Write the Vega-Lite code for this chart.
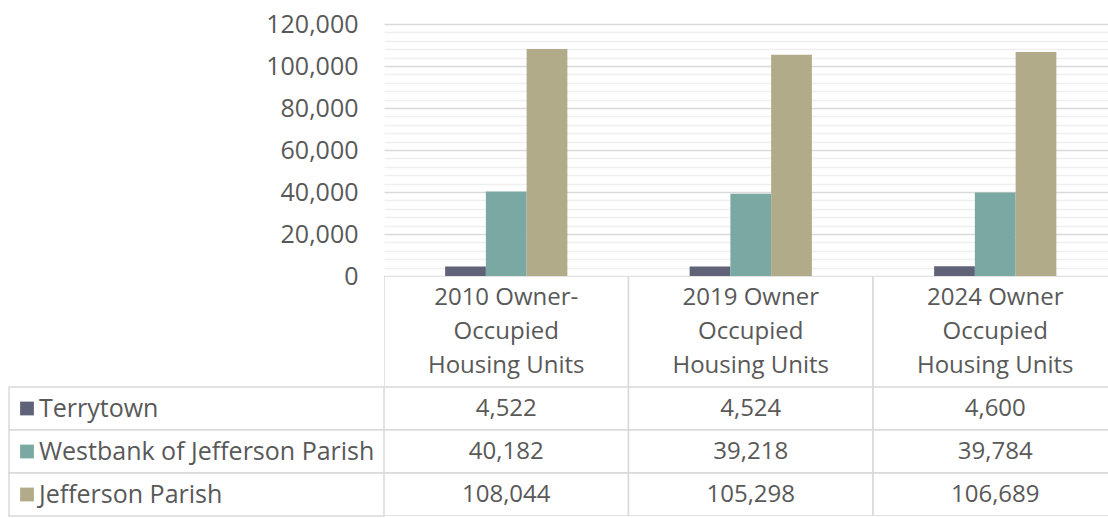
{
  "$schema": "https://vega.github.io/schema/vega-lite/v6.json",
  "padding": {"left": 8, "top": 12, "right": 0, "bottom": 2},
  "background": "white",
  "config": {"view": {"stroke": null}, "font": "Open Sans"},
  "datasets": {
    "units": [
      {"category": "2010", "series": "Terrytown", "value": 4522},
      {"category": "2010", "series": "Westbank of Jefferson Parish", "value": 40182},
      {"category": "2010", "series": "Jefferson Parish", "value": 108044},
      {"category": "2019", "series": "Terrytown", "value": 4524},
      {"category": "2019", "series": "Westbank of Jefferson Parish", "value": 39218},
      {"category": "2019", "series": "Jefferson Parish", "value": 105298},
      {"category": "2024", "series": "Terrytown", "value": 4600},
      {"category": "2024", "series": "Westbank of Jefferson Parish", "value": 39784},
      {"category": "2024", "series": "Jefferson Parish", "value": 106689}
    ],
    "headers": [
      {"category": "2010", "header": "2010 Owner-\nOccupied\nHousing Units"},
      {"category": "2019", "header": "2019 Owner\nOccupied\nHousing Units"},
      {"category": "2024", "header": "2024 Owner\nOccupied\nHousing Units"}
    ]
  },
  "bounds": "flush",
  "spacing": 0,
  "columns": 2,
  "concat": [
    {
      "width": 375, "height": 252,
      "data": {"values": [{"t": ""}]},
      "mark": {"type": "text"},
      "encoding": {"text": {"field": "t"}}
    },
    {
      "width": 725, "height": 252,
      "data": {"name": "units"},
      "mark": {"type": "bar", "clip": true},
      "encoding": {
        "x": {"field": "category", "type": "nominal", "sort": ["2010", "2019", "2024"], "axis": null,
              "scale": {"range": [0, 733.5], "paddingInner": 0.5, "paddingOuter": 0.25}},
        "xOffset": {"field": "series", "type": "nominal", "sort": ["Terrytown", "Westbank of Jefferson Parish", "Jefferson Parish"], "scale": {"paddingInner": 0}},
        "y": {"field": "value", "type": "quantitative", "scale": {"domain": [0, 120000], "nice": false},
              "axis": {
                "title": null, "domain": false, "ticks": false, "labelPadding": 26, "labelFontSize": 25,
                "labelColor": "#595959", "labelFont": "Open Sans", "labelOverlap": false, "labelFlush": false,
                "values": [0, 4000, 8000, 12000, 16000, 20000, 24000, 28000, 32000, 36000, 40000, 44000, 48000, 52000, 56000, 60000, 64000, 68000, 72000, 76000, 80000, 84000, 88000, 92000, 96000, 100000, 104000, 108000, 112000, 116000, 120000],
                "labelExpr": "datum.value % 20000 === 0 ? format(datum.value, ',') : ''",
                "gridColor": {"condition": {"test": "datum.value % 20000 === 0", "value": "#d9d9d9"}, "value": "#efefef"},
                "gridWidth": 1.5
              }},
        "color": {"field": "series", "type": "nominal",
                  "scale": {"domain": ["Terrytown", "Westbank of Jefferson Parish", "Jefferson Parish"], "range": ["#606377", "#7aa8a2", "#b1ab8a"]},
                  "legend": null}
      }
    },
    {
      "width": 375, "height": 111,
      "data": {"values": [{"t": ""}]},
      "mark": {"type": "text"},
      "encoding": {"text": {"field": "t"}}
    },
    {
      "width": 725, "height": 111,
      "data": {"name": "headers"},
      "encoding": {
        "x": {"field": "category", "type": "nominal", "sort": ["2010", "2019", "2024"], "axis": null,
              "scale": {"range": [0, 733.5], "paddingInner": 0, "paddingOuter": 0}}
      },
      "layer": [
        {"mark": {"type": "rect", "fill": "white", "stroke": "#d9d9d9", "strokeWidth": 1.5, "clip": true}},
        {"mark": {"type": "text", "fontSize": 24, "lineHeight": 34, "lineBreak": "\n", "color": "#595959", "baseline": "middle", "dy": -33.5, "clip": true},
         "encoding": {"text": {"field": "header"}}}
      ]
    },
    {
      "width": 375, "height": 129,
      "data": {"name": "units"},
      "transform": [{"filter": "datum.category === '2010'"}],
      "encoding": {
        "y": {"field": "series", "type": "nominal", "sort": ["Terrytown", "Westbank of Jefferson Parish", "Jefferson Parish"], "axis": null,
              "scale": {"paddingInner": 0, "paddingOuter": 0}}
      },
      "layer": [
        {"mark": {"type": "rect", "fill": "white", "stroke": "#d9d9d9", "strokeWidth": 1.5}},
        {"mark": {"type": "square", "size": 190, "filled": true, "opacity": 1},
         "encoding": {"x": {"value": 18},
                      "color": {"field": "series", "type": "nominal",
                                "scale": {"domain": ["Terrytown", "Westbank of Jefferson Parish", "Jefferson Parish"], "range": ["#606377", "#7aa8a2", "#b1ab8a"]},
                                "legend": null}}},
        {"mark": {"type": "text", "align": "left", "baseline": "middle", "fontSize": 25, "color": "#595959"},
         "encoding": {"x": {"value": 30}, "text": {"field": "series"}}}
      ]
    },
    {
      "width": 725, "height": 129,
      "data": {"name": "units"},
      "encoding": {
        "x": {"field": "category", "type": "nominal", "sort": ["2010", "2019", "2024"], "axis": null,
              "scale": {"range": [0, 733.5], "paddingInner": 0, "paddingOuter": 0}},
        "y": {"field": "series", "type": "nominal", "sort": ["Terrytown", "Westbank of Jefferson Parish", "Jefferson Parish"], "axis": null,
              "scale": {"paddingInner": 0, "paddingOuter": 0}}
      },
      "layer": [
        {"mark": {"type": "rect", "fill": "white", "stroke": "#d9d9d9", "strokeWidth": 1.5, "clip": true}},
        {"mark": {"type": "text", "baseline": "middle", "fontSize": 24, "color": "#595959", "clip": true},
         "encoding": {"text": {"field": "value", "type": "quantitative", "format": ","}}}
      ]
    }
  ]
}
